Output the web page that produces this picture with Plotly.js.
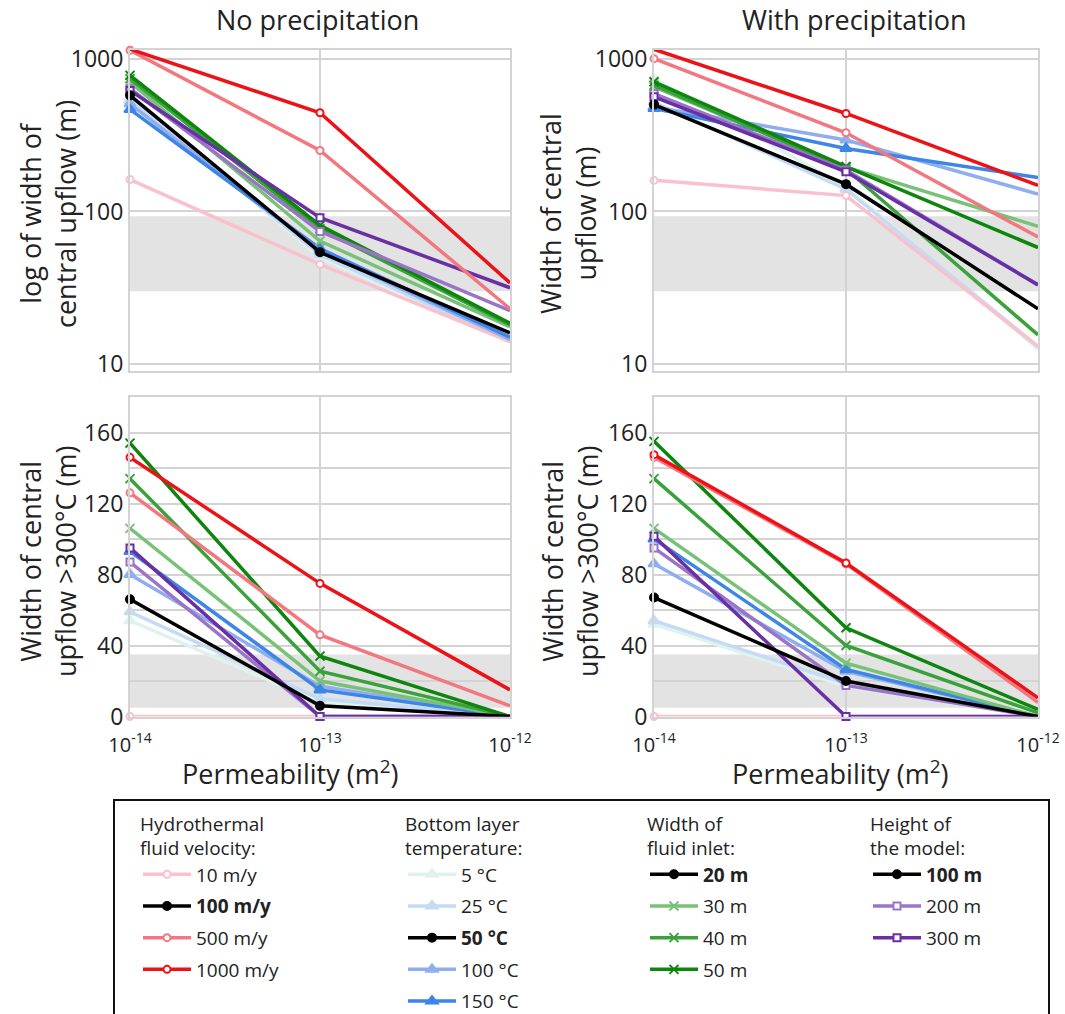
<!DOCTYPE html>
<html>
<head>
<meta charset="utf-8">
<script src="https://cdn.plot.ly/plotly-3.0.1.min.js"></script>
<style>html,body{margin:0;padding:0;background:#fff;}#chart{width:1065px;height:1014px;}</style>
</head>
<body>
<div id="chart"></div>
<script>
// ---------- data ----------
const permeability = [1e-14, 1e-13, 1e-12];
const xTickText = ['10<sup>-14</sup>', '10<sup>-13</sup>', '10<sup>-12</sup>'];
const logTicks = [10, 100, 1000];
const linTicks = [0, 40, 80, 120, 160];

// Width of central upflow (m), no precipitation
const upNo_base = [577, 54, 16];
const upNo_v10 = [162, 45, 14];
const upNo_v500 = [1140, 251, 23];
const upNo_v1000 = [1160, 444, 34];
const upNo_t5 = [560, 50, 14];
const upNo_t25 = [535, 52, 14];
const upNo_t100 = [508, 55, 14.5];
const upNo_t150 = [467, 57, 15];
const upNo_w30 = [705, 64, 17.5];
const upNo_w40 = [741, 77, 18];
const upNo_w50 = [780, 81, 18.5];
const upNo_h200 = [638, 74, 22.4];
const upNo_h300 = [621, 91, 31.6];

// Width of central upflow (m), with precipitation
const upWith_base = [502, 151, 23];
const upWith_v10 = [160, 127, 13];
const upWith_v500 = [1004, 328, 68];
const upWith_v1000 = [1157, 439, 148];
const upWith_t5 = [740, 145, 12.5];
const upWith_t25 = [520, 140, 13];
const upWith_t100 = [485, 294, 130];
const upWith_t150 = [473, 259, 167];
const upWith_w30 = [656, 195, 80];
const upWith_w40 = [673, 190, 15.5];
const upWith_w50 = [708, 197, 58];
const upWith_h200 = [593, 187, 33];
const upWith_h300 = [565, 182, 33];

// Width of central upflow >300 °C (m), no precipitation
const hotNo_base = [66, 6, 0];
const hotNo_v10 = [0, 0, 0];
const hotNo_v500 = [126, 46, 6];
const hotNo_v1000 = [146, 75, 15];
const hotNo_t5 = [54, 8, 0];
const hotNo_t25 = [59, 10, 0];
const hotNo_t100 = [80, 17, 0];
const hotNo_t150 = [93, 15, 0];
const hotNo_w30 = [106, 20, 0];
const hotNo_w40 = [134, 25.5, 0];
const hotNo_w50 = [154, 34, 0];
const hotNo_h200 = [87, 0, 0];
const hotNo_h300 = [95, 0, 0];

// Width of central upflow >300 °C (m), with precipitation
const hotWith_base = [67, 20, 0];
const hotWith_v10 = [0, 0, 0];
const hotWith_v500 = [146, 86, 8];
const hotWith_v1000 = [147.5, 86.5, 10.5];
const hotWith_t5 = [52, 17, 0];
const hotWith_t25 = [54, 18.5, 0];
const hotWith_t100 = [86, 25.5, 0];
const hotWith_t150 = [100, 26.5, 0];
const hotWith_w30 = [106, 30, 0];
const hotWith_w40 = [134, 40, 2];
const hotWith_w50 = [155, 50, 4];
const hotWith_h200 = [95, 17.5, 0];
const hotWith_h300 = [101.5, 0, 0];

// Grey reference bands
const bandTop = [30, 93];
const bandBottom = [5, 35];

// ---------- series styles ----------
const FONT = 'Open Sans, Noto Sans, sans-serif';
const series = [
  {key:'t5',   name:'5 °C',    legend:'legend2', rank:1, color:'#dff3ee', sym:'triangle-up', fill:null},
  {key:'t25',  name:'25 °C',   legend:'legend2', rank:2, color:'#c5dbf5', sym:'triangle-up', fill:null},
  {key:'v10',  name:'10 m/y',  legend:'legend',  rank:1, color:'#f8c1cc', sym:'circle', fill:'#ffffff'},
  {key:'t100', name:'100 °C',  legend:'legend2', rank:4, color:'#8eaeee', sym:'triangle-up', fill:null},
  {key:'t150', name:'150 °C',  legend:'legend2', rank:5, color:'#3d85e6', sym:'triangle-up', fill:null},
  {key:'w30',  name:'30 m',    legend:'legend3', rank:2, color:'#78c278', sym:'x-thin', fill:null},
  {key:'w40',  name:'40 m',    legend:'legend3', rank:3, color:'#3aa23a', sym:'x-thin', fill:null},
  {key:'w50',  name:'50 m',    legend:'legend3', rank:4, color:'#0e860e', sym:'x-thin', fill:null},
  {key:'h200', name:'200 m',   legend:'legend4', rank:2, color:'#9b74c8', sym:'square', fill:'#ffffff'},
  {key:'h300', name:'300 m',   legend:'legend4', rank:3, color:'#6930a6', sym:'square', fill:'#ffffff'},
  {key:'v500', name:'500 m/y', legend:'legend',  rank:3, color:'#f3777f', sym:'circle', fill:'#ffffff'},
  {key:'v1000',name:'1000 m/y',legend:'legend',  rank:4, color:'#ec1218', sym:'circle', fill:'#ffffff'},
  {key:'base', name:'base',    legend:'legend',  rank:2, color:'#000000', sym:'circle', fill:'#000000'}
];

const panels = [
  {xa:'x',  ya:'y',  data:{base:upNo_base,v10:upNo_v10,v500:upNo_v500,v1000:upNo_v1000,t5:upNo_t5,t25:upNo_t25,t100:upNo_t100,t150:upNo_t150,w30:upNo_w30,w40:upNo_w40,w50:upNo_w50,h200:upNo_h200,h300:upNo_h300},
   baseName:'<b>100 m/y</b>', baseLegend:'legend', baseRank:2},
  {xa:'x2', ya:'y2', data:{base:upWith_base,v10:upWith_v10,v500:upWith_v500,v1000:upWith_v1000,t5:upWith_t5,t25:upWith_t25,t100:upWith_t100,t150:upWith_t150,w30:upWith_w30,w40:upWith_w40,w50:upWith_w50,h200:upWith_h200,h300:upWith_h300},
   baseName:'<b>50 °C</b>', baseLegend:'legend2', baseRank:3},
  {xa:'x3', ya:'y3', data:{base:hotNo_base,v10:hotNo_v10,v500:hotNo_v500,v1000:hotNo_v1000,t5:hotNo_t5,t25:hotNo_t25,t100:hotNo_t100,t150:hotNo_t150,w30:hotNo_w30,w40:hotNo_w40,w50:hotNo_w50,h200:hotNo_h200,h300:hotNo_h300},
   baseName:'<b>20 m</b>', baseLegend:'legend3', baseRank:1},
  {xa:'x4', ya:'y4', data:{base:hotWith_base,v10:hotWith_v10,v500:hotWith_v500,v1000:hotWith_v1000,t5:hotWith_t5,t25:hotWith_t25,t100:hotWith_t100,t150:hotWith_t150,w30:hotWith_w30,w40:hotWith_w40,w50:hotWith_w50,h200:hotWith_h200,h300:hotWith_h300},
   baseName:'<b>100 m</b>', baseLegend:'legend4', baseRank:1}
];

const traces = [];
panels.forEach((p, pi) => {
  series.forEach((s, si) => {
    const isBase = s.key === 'base';
    const marker = {symbol: s.sym, size: s.sym === 'x-thin' ? 9 : (s.sym==='triangle-up' ? 10 : 7),
      color: s.fill || s.color, line: {color: s.color, width: 2}};
    if (isBase) { marker.size = 8; }
    traces.push({
      type: 'scatter', mode: 'lines+markers',
      x: permeability, y: p.data[s.key],
      xaxis: p.xa, yaxis: p.ya,
      name: isBase ? p.baseName : s.name,
      legend: isBase ? p.baseLegend : s.legend,
      legendrank: isBase ? p.baseRank : s.rank,
      legendgroup: 'g' + pi + '_' + si,
      showlegend: isBase ? true : pi === 0,
      line: {color: s.color, width: 3.5},
      marker: marker,
      cliponaxis: false,
      hoverinfo: 'x+y+name'
    });
  });
});

// ---------- layout ----------
const W = 1065, H = 1014;
const px = v => v / W;
const py = v => 1 - v / H;
const gridC = '#d3d3d3';

function xAxis(domain, showLabels, anchor) {
  return {type:'log', domain: domain, range:[-14, -12], anchor: anchor,
    tickvals: permeability, ticktext: xTickText, showticklabels: showLabels,
    tickfont:{family:FONT, size:20, color:'#222'},
    ticks:'outside', ticklen:9, tickcolor:'rgba(0,0,0,0)',
    showgrid:true, gridcolor:gridC, gridwidth:2, zeroline:false,
    showline:true, mirror:true, linecolor:gridC, linewidth:2};
}
function yLog(domain, anchor) {
  return {type:'log', domain: domain, range:[0.957, 3.062], anchor: anchor,
    tickvals: logTicks, ticktext: logTicks.map(String), ticks:'',
    tickfont:{family:FONT, size:23, color:'#222'},
    showgrid:true, gridcolor:gridC, gridwidth:2, zeroline:false,
    showline:true, mirror:true, linecolor:gridC, linewidth:2};
}
function yLin(domain, anchor) {
  return {type:'linear', domain: domain, range:[0, 180], anchor: anchor,
    tickvals: linTicks, ticks:'',
    tickfont:{family:FONT, size:23, color:'#222'},
    showgrid:true, gridcolor:gridC, gridwidth:2, zeroline:false,
    minor:{dtick:20, showgrid:true, gridcolor:gridC, gridwidth:2, ticks:''},
    showline:true, mirror:true, linecolor:gridC, linewidth:2};
}

const xdL = [px(130), px(510)], xdR = [px(654), px(1038)];
const ydT = [py(370.5), py(49.5)], ydB = [py(716.5), py(397)];

function legendBox(x) {
  return {x: px(x), y: py(806), xanchor:'left', yanchor:'top', bgcolor:'rgba(0,0,0,0)',
    borderwidth:0, font:{family:FONT, size:19, color:'#222'}, tracegroupgap:4, itemwidth:48,
    title:{font:{family:FONT, size:19, color:'#222'}, side:'top'}};
}
const lg1 = legendBox(138); lg1.title.text = 'Hydrothermal<br>fluid velocity:';
const lg2 = legendBox(403); lg2.title.text = 'Bottom layer<br>temperature:';
const lg3 = legendBox(645); lg3.title.text = 'Width of<br>fluid inlet:';
const lg4 = legendBox(868); lg4.title.text = 'Height of<br>the model:';

const bandShape = (xr, yr, b) => ({type:'rect', xref: xr + ' domain', yref: yr, x0:0, x1:1, y0:b[0], y1:b[1],
  fillcolor:'#e3e3e3', line:{width:0}, layer:'below'});

const txt = (text, x, y, size, angle) => ({text: text, xref:'paper', yref:'paper', x: px(x), y: py(y),
  xanchor:'center', yanchor:'middle', showarrow:false, textangle: angle || 0,
  font:{family:FONT, size: size, color:'#222'}});

const layout = {
  width: W, height: H, margin:{l:0, r:0, t:0, b:0, autoexpand:false},
  paper_bgcolor:'#ffffff', plot_bgcolor:'#ffffff',
  font:{family:FONT, color:'#222'},
  showlegend:true,
  xaxis: xAxis(xdL, false, 'y'),
  yaxis: yLog(ydT, 'x'),
  xaxis2: xAxis(xdR, false, 'y2'),
  yaxis2: yLog(ydT, 'x2'),
  xaxis3: xAxis(xdL, true, 'y3'),
  yaxis3: yLin(ydB, 'x3'),
  xaxis4: xAxis(xdR, true, 'y4'),
  yaxis4: yLin(ydB, 'x4'),
  legend: lg1, legend2: lg2, legend3: lg3, legend4: lg4,
  shapes: [
    bandShape('x', 'y', bandTop), bandShape('x2', 'y2', bandTop),
    bandShape('x3', 'y3', bandBottom), bandShape('x4', 'y4', bandBottom),
    {type:'rect', xref:'paper', yref:'paper', x0:px(114), x1:px(1049), y0:-0.05, y1:py(800),
     line:{color:'#111', width:2}, fillcolor:'rgba(0,0,0,0)', layer:'above'}
  ],
  annotations: [
    txt('No precipitation', 317, 20, 27),
    txt('With precipitation', 854, 20, 27),
    txt('Permeability (m<sup>2</sup>)', 290, 772, 27),
    txt('Permeability (m<sup>2</sup>)', 840, 772, 27),
    txt('log of width of<br>central upflow (m)', 48, 214, 27, -90),
    txt('Width of central<br>upflow (m)', 568, 214, 27, -90),
    txt('Width of central<br>upflow >300°C (m)', 48, 562, 27, -90),
    txt('Width of central<br>upflow >300°C (m)', 570, 562, 27, -90)
  ]
};

Plotly.newPlot('chart', traces, layout, {displayModeBar:false, staticPlot:true});
</script>
</body>
</html>
